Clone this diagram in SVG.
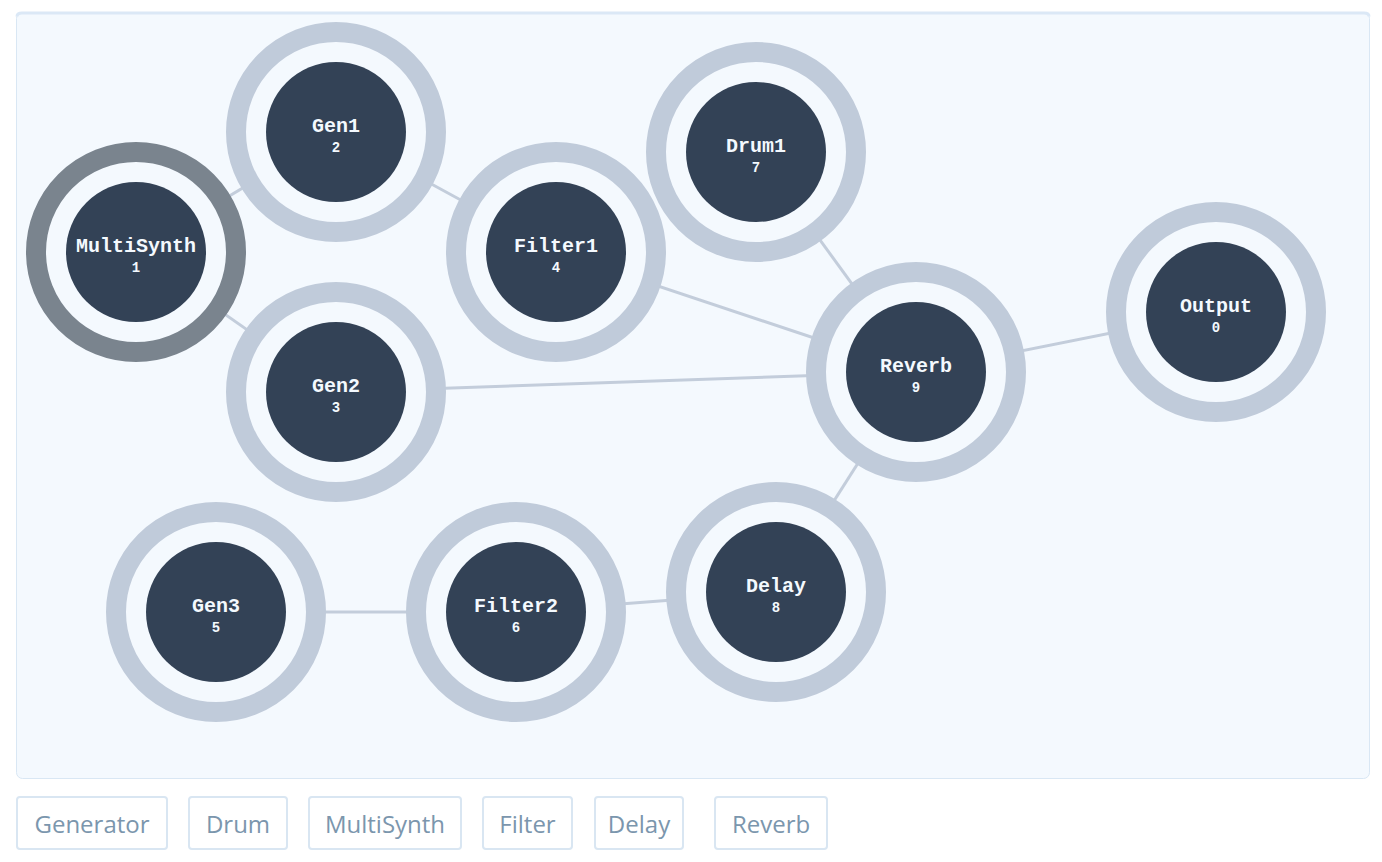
<svg xmlns="http://www.w3.org/2000/svg" width="1382" height="862" viewBox="0 0 1382 862">
<style>
.ring{fill:#f4f9fe;stroke:#c0cbda;stroke-width:20}
.ring.sel{stroke:#7a848e}
.core{fill:#334256}
.name{font-family:"Liberation Mono","Courier New",monospace;font-weight:bold;font-size:20px;fill:#f4f9fe;text-anchor:middle}
.num{font-family:"Liberation Mono","Courier New",monospace;font-weight:bold;font-size:14px;fill:#f4f9fe;text-anchor:middle}
.edge{stroke:#c3cddb;stroke-width:3;fill:none}
.btn rect{fill:#ffffff;stroke:#d9e6f2;stroke-width:2}
.btn text{font-family:"Open Sans","Liberation Sans",sans-serif;font-size:24px;fill:#7b96ad;text-anchor:middle}
</style>
<rect width="1382" height="862" fill="#ffffff"/>
<g id="panel">
<rect x="16.5" y="12.5" width="1353" height="766" rx="6" fill="#f4f9fe" stroke="#d9e7f4" stroke-width="1"/>
<path d="M17 16.5 Q17 13 22 13 H1364 Q1369 13 1369 16.5" fill="none" stroke="#dbe8f6" stroke-width="3"/>
</g>
<g id="connectors">
<line class="edge" x1="136" y1="252" x2="336" y2="132"/>
<line class="edge" x1="136" y1="252" x2="336" y2="392"/>
<line class="edge" x1="336" y1="132" x2="556" y2="252"/>
<line class="edge" x1="556" y1="252" x2="916" y2="372"/>
<line class="edge" x1="336" y1="392" x2="916" y2="372"/>
<line class="edge" x1="756" y1="152" x2="916" y2="372"/>
<line class="edge" x1="776" y1="592" x2="916" y2="372"/>
<line class="edge" x1="1216" y1="312" x2="916" y2="372"/>
<line class="edge" x1="216" y1="612" x2="516" y2="612"/>
<line class="edge" x1="516" y1="612" x2="776" y2="592"/>
</g>
<g id="node-1"><circle class="ring sel" cx="136" cy="252" r="100"/><circle class="core" cx="136" cy="252" r="70"/><text class="name" x="136" y="252">MultiSynth</text><text class="num" x="136" y="272">1</text></g>
<g id="node-2"><circle class="ring" cx="336" cy="132" r="100"/><circle class="core" cx="336" cy="132" r="70"/><text class="name" x="336" y="132">Gen1</text><text class="num" x="336" y="152">2</text></g>
<g id="node-3"><circle class="ring" cx="336" cy="392" r="100"/><circle class="core" cx="336" cy="392" r="70"/><text class="name" x="336" y="392">Gen2</text><text class="num" x="336" y="412">3</text></g>
<g id="node-4"><circle class="ring" cx="556" cy="252" r="100"/><circle class="core" cx="556" cy="252" r="70"/><text class="name" x="556" y="252">Filter1</text><text class="num" x="556" y="272">4</text></g>
<g id="node-5"><circle class="ring" cx="216" cy="612" r="100"/><circle class="core" cx="216" cy="612" r="70"/><text class="name" x="216" y="612">Gen3</text><text class="num" x="216" y="632">5</text></g>
<g id="node-6"><circle class="ring" cx="516" cy="612" r="100"/><circle class="core" cx="516" cy="612" r="70"/><text class="name" x="516" y="612">Filter2</text><text class="num" x="516" y="632">6</text></g>
<g id="node-7"><circle class="ring" cx="756" cy="152" r="100"/><circle class="core" cx="756" cy="152" r="70"/><text class="name" x="756" y="152">Drum1</text><text class="num" x="756" y="172">7</text></g>
<g id="node-8"><circle class="ring" cx="776" cy="592" r="100"/><circle class="core" cx="776" cy="592" r="70"/><text class="name" x="776" y="592">Delay</text><text class="num" x="776" y="612">8</text></g>
<g id="node-9"><circle class="ring" cx="916" cy="372" r="100"/><circle class="core" cx="916" cy="372" r="70"/><text class="name" x="916" y="372">Reverb</text><text class="num" x="916" y="392">9</text></g>
<g id="node-0"><circle class="ring" cx="1216" cy="312" r="100"/><circle class="core" cx="1216" cy="312" r="70"/><text class="name" x="1216" y="312">Output</text><text class="num" x="1216" y="332">0</text></g>
<g id="buttons">
<g class="btn"><rect x="17" y="797" width="150" height="52" rx="3"/><text x="92" y="833">Generator</text></g>
<g class="btn"><rect x="189" y="797" width="98" height="52" rx="3"/><text x="238" y="833">Drum</text></g>
<g class="btn"><rect x="309" y="797" width="152" height="52" rx="3"/><text x="385" y="833">MultiSynth</text></g>
<g class="btn"><rect x="483" y="797" width="89" height="52" rx="3"/><text x="527.5" y="833">Filter</text></g>
<g class="btn"><rect x="595" y="797" width="88" height="52" rx="3"/><text x="639" y="833">Delay</text></g>
<g class="btn"><rect x="715" y="797" width="112" height="52" rx="3"/><text x="771" y="833">Reverb</text></g>
</g>
</svg>
